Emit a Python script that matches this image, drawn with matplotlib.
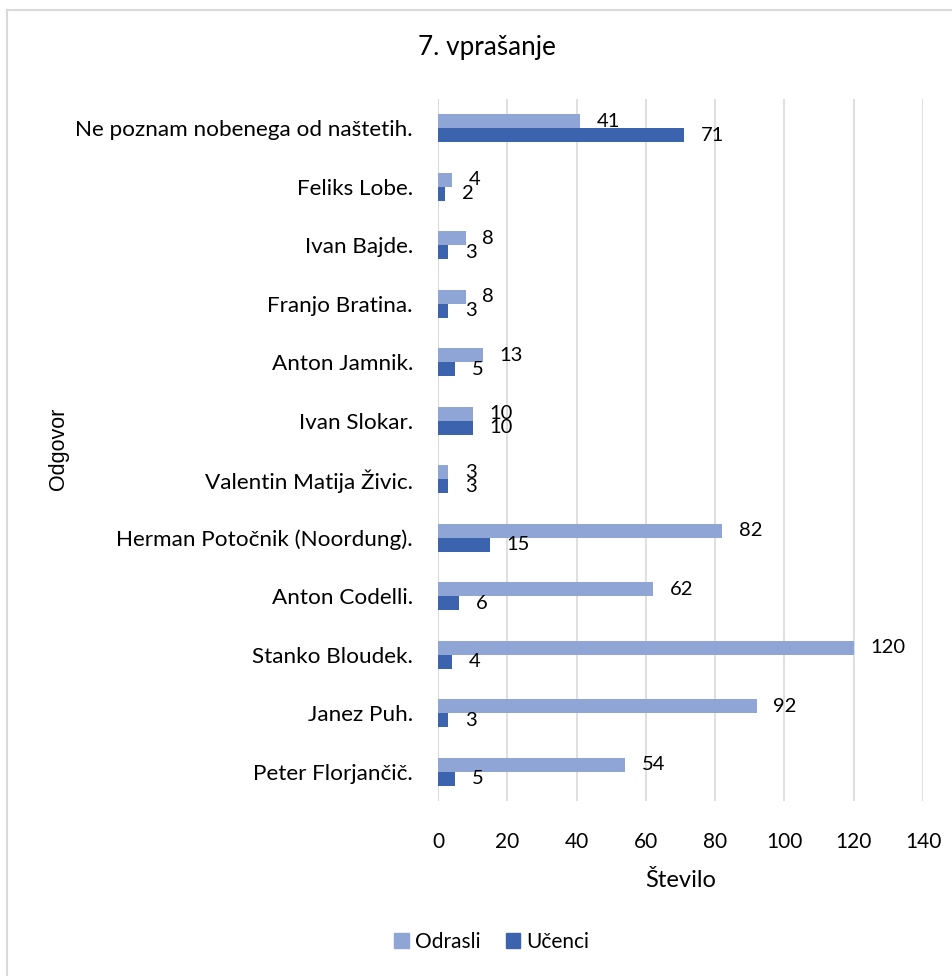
import matplotlib
matplotlib.use("Agg")
import matplotlib.pyplot as plt
from matplotlib.lines import Line2D
import numpy as np

plt.rcParams['font.family'] = ['Lato', 'DejaVu Sans']

categories = ["Peter Florjančič.", "Janez Puh.", "Stanko Bloudek.", "Anton Codelli.",
              "Herman Potočnik (Noordung).", "Valentin Matija Živic.", "Ivan Slokar.",
              "Anton Jamnik.", "Franjo Bratina.", "Ivan Bajde.", "Feliks Lobe.",
              "Ne poznam nobenega od naštetih."]
odrasli = [54, 92, 120, 62, 82, 3, 10, 13, 8, 8, 4, 41]
ucenci = [5, 3, 4, 6, 15, 3, 10, 5, 3, 3, 2, 71]
series_names = ["Odrasli", "Učenci"]
xticks = [0, 20, 40, 60, 80, 100, 120, 140]

c_light = "#8FA5D6"
c_dark = "#3C64AE"

W, H = 953, 976
fig = plt.figure(figsize=(W / 100, H / 100), dpi=100)
ax = fig.add_axes([438 / W, 1 - 801 / H, (923 - 438) / W, (801 - 99) / H])

y = np.arange(len(categories))
h = 0.24
ax.barh(y + h / 2, odrasli, height=h, color=c_light, label=series_names[0], zorder=3)
ax.barh(y - h / 2, ucenci, height=h, color=c_dark, label=series_names[1], zorder=3)

ax.set_xlim(0, 140)
ax.set_ylim(-0.5, len(categories) - 0.5)
ax.set_xticks(xticks)
ax.set_xticklabels([str(t) for t in xticks])
ax.set_yticks(y)
ax.set_yticklabels(categories)
ax.tick_params(axis='x', length=0, labelsize=15, colors="#000000", pad=22)
ax.tick_params(axis='y', length=0, labelsize=16.2, colors="#000000", pad=18)
ax.grid(axis='x', color="#D9D9D9", linewidth=1.2, zorder=0)
for s in ax.spines.values():
    s.set_visible(False)
ax.axvline(0, color="#D9D9D9", linewidth=1.2, zorder=1)

for yi, v in zip(y, odrasli):
    ax.annotate(str(v), (v, yi + h / 2), xytext=(12, 0), textcoords='offset points',
                va='center', ha='left', fontsize=14.5)
for yi, v in zip(y, ucenci):
    ax.annotate(str(v), (v, yi - h / 2), xytext=(12, 0), textcoords='offset points',
                va='center', ha='left', fontsize=14.5)

ax.set_xlabel("Število", fontsize=17, labelpad=13)
fig.text(58 / W, 1 - 449 / H, "Odgovor", rotation=90, ha='center', va='center',
         fontsize=15.5, family=['Liberation Sans', 'DejaVu Sans'])
fig.text(487 / W, 1 - 48 / H, "7. vprašanje", ha='center', va='center', fontsize=18.8)

handles = [plt.Rectangle((0, 0), 1, 1, color=c_light), plt.Rectangle((0, 0), 1, 1, color=c_dark)]
fig.legend(handles, series_names, loc='center', bbox_to_anchor=(492 / W, 1 - 942 / H),
           ncol=2, frameon=False, fontsize=15, handlelength=0.7, handleheight=0.7,
           handletextpad=0.3, columnspacing=1.2)

# chart border (left and top edges visible)
fig.add_artist(Line2D([7 / W, 7 / W], [0, 1 - 10 / H], color="#D9D9D9", linewidth=1.5,
                      transform=fig.transFigure))
fig.add_artist(Line2D([7 / W, 1], [1 - 10 / H, 1 - 10 / H], color="#D9D9D9", linewidth=1.5,
                      transform=fig.transFigure))

fig.savefig("out.png", dpi=100)
